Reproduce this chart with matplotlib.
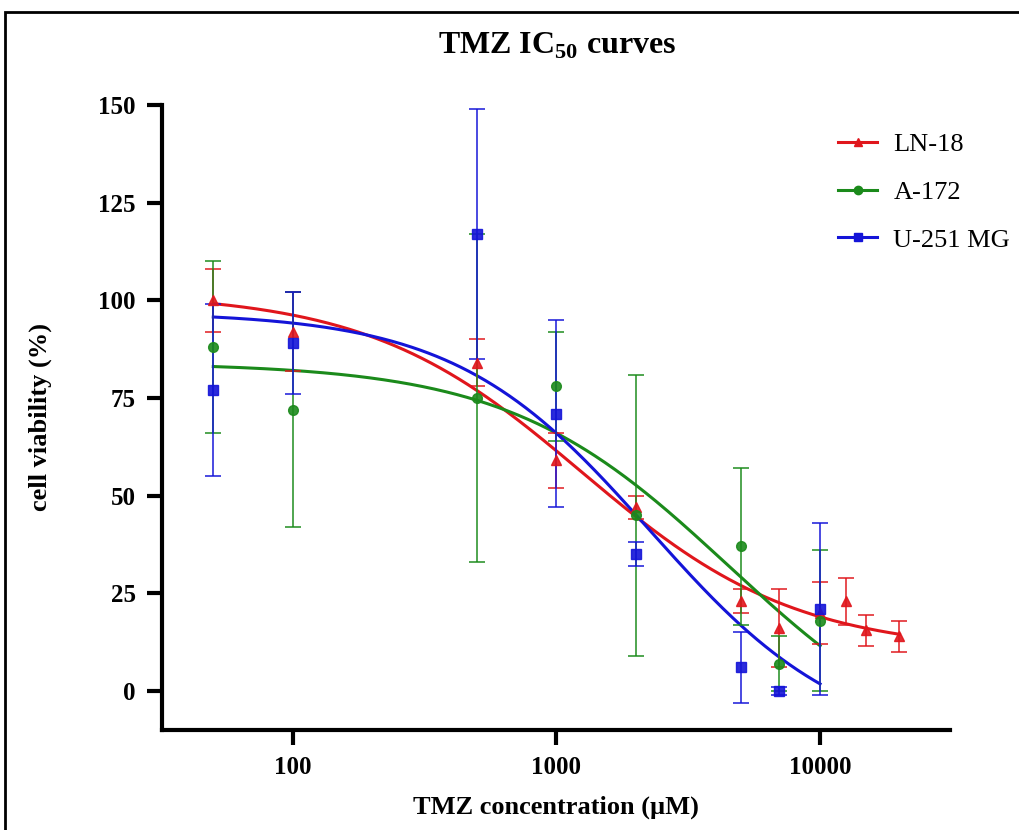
import numpy as np
import matplotlib
matplotlib.use("Agg")
import matplotlib.pyplot as plt
from matplotlib.lines import Line2D
from matplotlib.patches import Rectangle

plt.rcParams['font.family'] = ['Liberation Serif', 'DejaVu Serif']
plt.rcParams['mathtext.fontset'] = 'custom'
plt.rcParams['mathtext.rm'] = 'Liberation Serif:bold'

# measured points (mean, SD)
ln18_conc = [50, 100, 500, 1000, 2000, 5000, 7000, 10000, 12500, 15000, 20000]
ln18_mean = [100, 92, 84, 59, 47, 23, 16, 20, 23, 15.5, 14]
ln18_sd = [8, 10, 6, 7, 3, 3, 10, 8, 6, 4, 4]

a172_conc = [50, 100, 500, 1000, 2000, 5000, 7000, 10000]
a172_mean = [88, 72, 75, 78, 45, 37, 7, 18]
a172_sd = [22, 30, 42, 14, 36, 20, 7, 18]

u251_conc = [50, 100, 500, 1000, 2000, 5000, 7000, 10000]
u251_mean = [77, 89, 117, 71, 35, 6, 0, 21]
u251_sd = [22, 13, 32, 24, 3, 9, 1, 22]

# 4PL fit parameters: top, bottom, IC50, hill, fit range
ln18_fit = (102, 10, 1250, 1.07, 20000)
a172_fit = (84, -20, 4500, 1.04, 10000)
u251_fit = (97, -15, 2270, 1.17, 10000)

labels = ['LN-18', 'A-172', 'U-251 MG']
colors = ['#e0161c', '#1b8a1b', '#1414d8']
markers = ['^', 'o', 's']


def four_pl(x, top, bottom, ic50, hill):
    return bottom + (top - bottom) / (1 + (x / ic50) ** hill)


fig = plt.figure(figsize=(10.2, 8.3), dpi=100)
ax = fig.add_axes([0.159, 0.1205, 0.772, 0.753])

series = [(ln18_conc, ln18_mean, ln18_sd, ln18_fit),
          (a172_conc, a172_mean, a172_sd, a172_fit),
          (u251_conc, u251_mean, u251_sd, u251_fit)]

for (conc, mean, sd, fit), c, m in zip(series, colors, markers):
    top, bottom, ic50, hill, xmax = fit
    xs = np.logspace(np.log10(50), np.log10(xmax), 300)
    ax.plot(xs, four_pl(xs, top, bottom, ic50, hill), color=c, lw=2.2, zorder=3)
    ax.errorbar(conc, mean, yerr=sd, fmt=m, color=c, ms=7, elinewidth=1.2,
                capsize=6, capthick=1.2, zorder=4, alpha=0.9)

ax.set_xscale('log')
ax.set_xlim(32, 31000)
ax.set_ylim(-10, 150)
ax.set_xticks([100, 1000, 10000])
ax.set_xticklabels(['100', '1000', '10000'])
ax.xaxis.set_minor_locator(matplotlib.ticker.NullLocator())
ax.set_yticks([0, 25, 50, 75, 100, 125, 150])

for s in ['top', 'right']:
    ax.spines[s].set_visible(False)
for s in ['left', 'bottom']:
    ax.spines[s].set_linewidth(3)
ax.tick_params(width=3, length=11, labelsize=18, pad=8)
for lab in ax.get_xticklabels() + ax.get_yticklabels():
    lab.set_fontweight('bold')

ax.set_xlabel('TMZ concentration (µM)', fontsize=19, fontweight='bold', labelpad=12)
ax.set_ylabel('cell viability (%)', fontsize=19, fontweight='bold')
ax.yaxis.set_label_coords(-0.14, 0.5)
fig.text(0.546, 0.945, r'TMZ IC$_{50}$ curves', ha='center', va='center',
         fontsize=23, fontweight='bold')

handles = [Line2D([0], [0], color=c, marker=m, lw=2.2, ms=6)
           for c, m in zip(colors, markers)]
ax.legend(handles, labels, loc='upper left', bbox_to_anchor=(0.838, 0.981),
          frameon=False, fontsize=19, handlelength=1.5, handletextpad=0.6,
          labelspacing=0.92, borderaxespad=0.2)

fig.patches.append(Rectangle((5 / 1020, -0.05), 1.2, 1 - 12 / 830 + 0.05,
                             transform=fig.transFigure, fill=False,
                             edgecolor='black', lw=2))

fig.savefig('out.png', dpi=100)
